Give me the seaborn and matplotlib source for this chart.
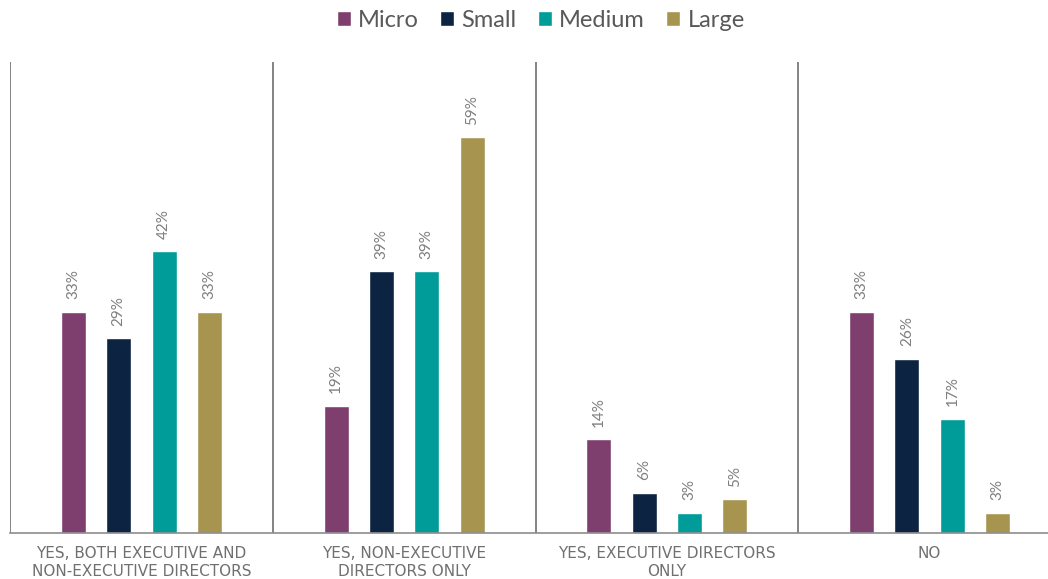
import matplotlib
matplotlib.use("Agg")
import matplotlib.pyplot as plt
import seaborn as sns
import pandas as pd

# data
categories = ["YES, BOTH EXECUTIVE AND\nNON-EXECUTIVE DIRECTORS",
              "YES, NON-EXECUTIVE\nDIRECTORS ONLY",
              "YES, EXECUTIVE DIRECTORS\nONLY",
              "NO"]
sizes = ["Micro", "Small", "Medium", "Large"]
micro = [33, 19, 14, 33]
small = [29, 39, 6, 26]
medium = [42, 39, 3, 17]
large = [33, 59, 5, 3]
colors = ["#7E3F6F", "#0C2342", "#009C9A", "#A7944F"]

rows = []
for size, vals in zip(sizes, [micro, small, medium, large]):
    for cat, v in zip(categories, vals):
        rows.append({"category": cat, "size": size, "value": v})
df = pd.DataFrame(rows)

sns.set_style("white")
plt.rcParams["font.family"] = ["Lato", "DejaVu Sans"]

fig = plt.figure(figsize=(10.48, 5.79), dpi=100)
# the plot area runs past the right edge of the picture, as in the original
ax = fig.add_axes([10 / 1048, 46 / 579, 1051 / 1048, 471 / 579])

sns.barplot(data=df, x="category", y="value", hue="size", hue_order=sizes,
            palette=colors, width=0.69, gap=0.45, saturation=1, ax=ax)

for container in ax.containers:
    ax.bar_label(container, labels=[f"{v:.0f}%" for v in container.datavalues],
                 rotation=90, padding=9, fontsize=11, color="#7F7F7F")

ax.set_xlim(-0.5, 3.5)
ax.set_ylim(0, 70.2)
for x in [-0.5, 0.5, 1.5, 2.5, 3.5]:
    ax.axvline(x, color="#6E6E6E", lw=1.2)

for s in ["top", "left", "right"]:
    ax.spines[s].set_visible(False)
ax.spines["bottom"].set_color("#8C8C8C")
ax.spines["bottom"].set_linewidth(1.2)
ax.set_yticks([])
ax.set_xlabel("")
ax.set_ylabel("")
ax.tick_params(axis="x", length=0, pad=9)
for lab in ax.get_xticklabels():
    lab.set_fontfamily(["DejaVu Sans"])
    lab.set_fontsize(11)
    lab.set_color("#707070")
    lab.set_linespacing(1.3)

handles, labels = ax.get_legend_handles_labels()
ax.legend_.remove()
fig.legend(handles, labels, loc="upper center", bbox_to_anchor=(0.516, 1.02),
           ncol=4, frameon=False, fontsize=17, labelcolor="#595959",
           handlelength=0.6, handleheight=0.6, handletextpad=0.3,
           columnspacing=0.9)

fig.savefig("out.png", dpi=100)
